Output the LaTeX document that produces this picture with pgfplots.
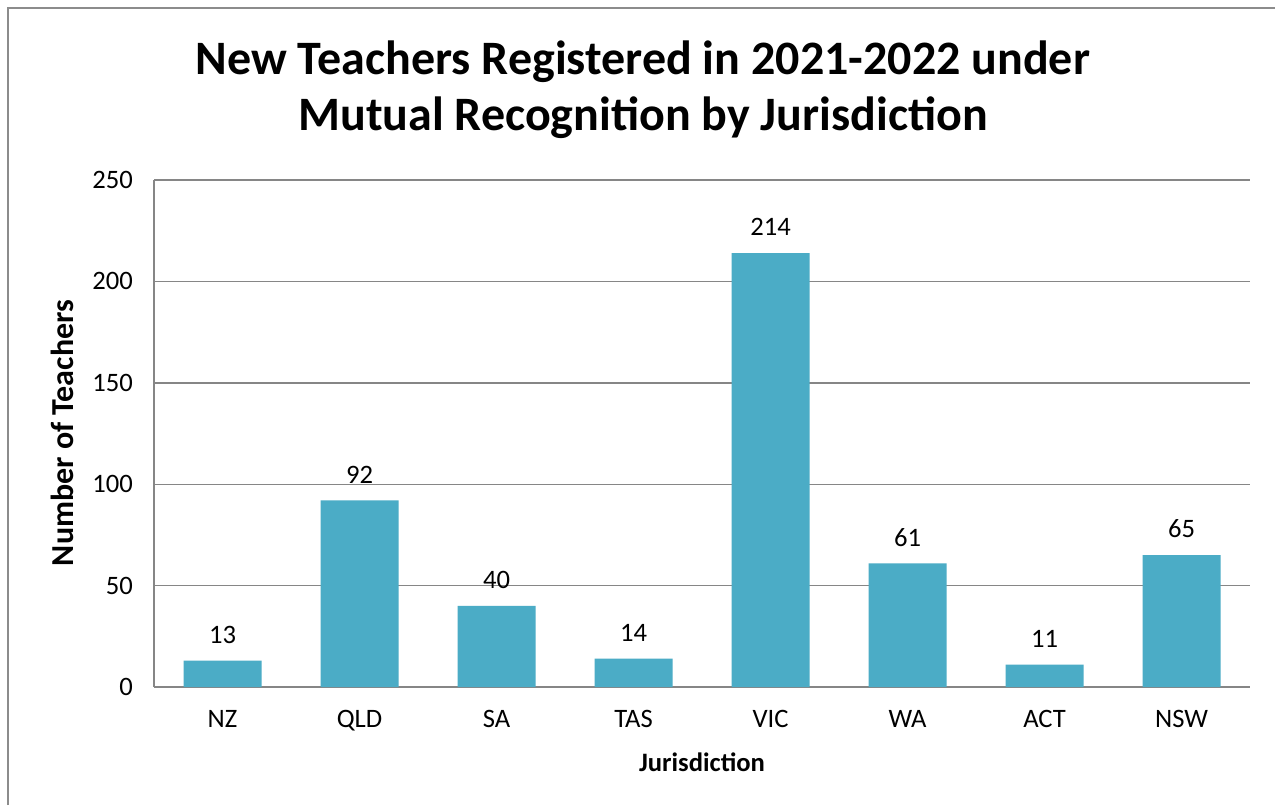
\documentclass[border=0pt]{standalone}
\usepackage{fontspec}
\setmainfont{Carlito}
\usepackage{pgfplots}
\pgfplotsset{compat=1.18}
\definecolor{baraqua}{HTML}{4BACC6}
\definecolor{gridgray}{HTML}{868686}
\definecolor{framegray}{HTML}{8C8C8C}
% 1 px of the reference = 0.5pt
\begin{document}
\begin{tikzpicture}[x=0.5pt,y=0.5pt]
\useasboundingbox (0,0) rectangle (1275,805);
\fill[white] (0,0) rectangle (1275,805);
\draw[framegray, line width=1pt] (8,0) -- (8,797) -- (1275,797);
\coordinate (plotorigin) at (154,118);
\begin{axis}[
    at={(plotorigin)}, anchor=south west,
    scale only axis,
    width=548pt, height=253.5pt,
    xmin=-0.5, xmax=7.5, ymin=0, ymax=250,
    ytick={0,50,...,250},
    xtick=data,
    xticklabels={NZ,QLD,SA,TAS,VIC,WA,ACT,NSW},
    axis x line=bottom, axis y line=left,
    axis line style={gridgray, line width=0.9pt, -},
    ymajorgrids, grid style={gridgray, line width=0.7pt},
    major tick length=0pt,
    tick label style={font=\fontsize{13.3}{16}\selectfont},
    /pgf/number format/assume math mode=true,
    yticklabel style={xshift=-7pt},
    xticklabel style={yshift=-8pt},
    ybar, bar width=39pt,
    nodes near coords,
    nodes near coords style={font=\fontsize{13.3}{16}\selectfont, yshift=5pt, /pgf/number format/assume math mode=true},
    clip=false
]
\addplot[fill=baraqua, draw=none] coordinates {
  (0,13) (1,92) (2,40) (3,14) (4,214) (5,61) (6,11) (7,65)
};
\end{axis}
\node[font=\fontsize{24}{28}\selectfont\bfseries, align=center] at (643,715) {New Teachers Registered in 2021-2022 under\\Mutual Recognition by Jurisdiction};
\node[font=\fontsize{13.3}{16}\selectfont\bfseries] at (702,43) {Jurisdiction};
\node[font=\fontsize{16}{19}\selectfont\bfseries, rotate=90] at (62,372) {Number of Teachers};
\end{tikzpicture}
\end{document}
